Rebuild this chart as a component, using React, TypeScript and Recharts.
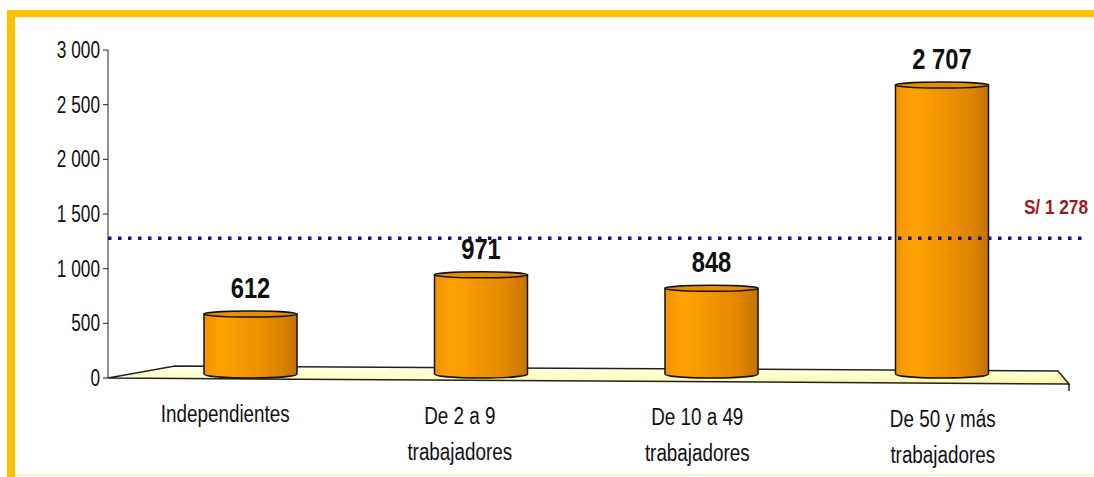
import { BarChart, Bar, XAxis, YAxis, ReferenceLine, ReferenceArea, LabelList } from 'recharts';

// ingreso promedio mensual por tamaño de empresa
const categories = ['Independientes', 'De 2 a 9\ntrabajadores', 'De 10 a 49\ntrabajadores', 'De 50 y más\ntrabajadores'];
const ingresos = [612, 971, 848, 2707];
const yTicks = [0, 500, 1000, 1500, 2000, 2500, 3000];
const promedio = 1278;
const promedioLabel = 'S/ 1 278';

const data = categories.map((name, i) => ({ name, ingreso: ingresos[i] }));

const FONT = '"Liberation Sans", Arial, sans-serif';
const YELLOW = '#ffc000';
const PAD_L = 27;
const PAD_R = 31;
// the tick labels sit a bit left of the bars (3D perspective in the original)
const LABEL_SHIFT = [-25, -21, -14, 1];

const fmt = (v: number) => String(v).replace(/\B(?=(\d{3})+(?!\d))/g, ' ');

// no Arial Narrow here, so squeeze Liberation Sans horizontally
const NarrowText = ({ x, y, size, sx = 0.82, anchor = 'middle', bold = false, fill = '#111', children }: any) => (
    <text
        transform={`translate(${x},${y}) scale(${sx},1)`}
        textAnchor={anchor}
        fontSize={size}
        fontWeight={bold ? 'bold' : 'normal'}
        fontFamily={FONT}
        fill={fill}
    >
        {children}
    </text>
);

const CylinderBar = (props: any) => {
    const { x, y, width, height } = props;
    if (height <= 0) return null;
    const ry = 3;
    const bottom = y + height;
    const rx = width / 2;
    const body = `M${x},${y + ry} L${x},${bottom - ry - 1} A${rx},${ry + 1} 0 0 0 ${x + width},${bottom - ry - 1} L${x + width},${y + ry} Z`;
    return (
        <g>
            <path d={body} fill="url(#barGrad)" stroke="#111" strokeWidth={1.5} />
            <ellipse cx={x + rx} cy={y + ry} rx={rx} ry={ry} fill="#e88c00" stroke="#111" strokeWidth={1.5} />
        </g>
    );
};

const Floor = (props: any) => {
    const { x, width, y, height } = props;
    const base = y + height;
    const left = x - PAD_L;
    const right = x + width + PAD_R;
    const pts = [
        [left, base],
        [left + 67, base - 12],
        [right - 30, base - 7],
        [right - 19, base + 6],
    ].map((p) => p.join(',')).join(' ');
    return (
        <g>
            <polygon points={pts} fill="url(#floorGrad)" stroke="#222" strokeWidth={1.5} />
            <line x1={right - 19} y1={base + 6} x2={right - 19} y2={base + 13} stroke="#222" strokeWidth={1.5} />
        </g>
    );
};

const CategoryTick = ({ x, y, payload, index }: any) => {
    const lines = String(payload.value).split('\n');
    const dx = LABEL_SHIFT[index] ?? 0;
    return (
        <g>
            {lines.map((line, i) => (
                <NarrowText key={i} x={x + dx} y={y + 36 + index * 1.6 + i * 36} size={23}>
                    {line}
                </NarrowText>
            ))}
        </g>
    );
};

const ValueTick = ({ x, y, payload }: any) => (
    <NarrowText x={x} y={y + 8} size={23} sx={0.75} anchor="end">
        {fmt(payload.value)}
    </NarrowText>
);

const ValueLabel = ({ x, y, width, value }: any) => (
    <NarrowText x={x + width / 2} y={y - 13} size={29} bold>
        {fmt(value)}
    </NarrowText>
);

const PromedioLabel = ({ viewBox }: any) => (
    <NarrowText x={viewBox.x + viewBox.width} y={viewBox.y - 24} size={21} anchor="end" bold fill="#9b1b1b">
        {promedioLabel}
    </NarrowText>
);

export default function App() {
    return (
        <div style={{ position: 'absolute', left: 0, top: 0, width: 1094, height: 477, background: '#fff', overflow: 'hidden' }}>
            <div style={{ position: 'absolute', left: 7, top: 10, width: 1087, height: 7, background: YELLOW }} />
            <div style={{ position: 'absolute', left: 7, top: 10, width: 8, height: 467, background: YELLOW }} />
            <div style={{ position: 'absolute', left: 15, top: 474, width: 1079, height: 2, background: '#fff2c0' }} />
            <div style={{ position: 'absolute', left: 0, top: 0 }}>
                <BarChart width={1094} height={477} data={data} margin={{ top: 50, right: 6, bottom: 9, left: 0 }}>
                    <defs>
                        <linearGradient id="barGrad" x1="0" y1="0" x2="1" y2="0">
                            <stop offset="0%" stopColor="#f29200" />
                            <stop offset="18%" stopColor="#ffa200" />
                            <stop offset="50%" stopColor="#f29400" />
                            <stop offset="80%" stopColor="#e08500" />
                            <stop offset="100%" stopColor="#c47200" />
                        </linearGradient>
                        <linearGradient id="floorGrad" x1="0" y1="0" x2="0" y2="1">
                            <stop offset="0%" stopColor="#fffff2" />
                            <stop offset="60%" stopColor="#ffffc4" />
                            <stop offset="100%" stopColor="#f4f0a0" />
                        </linearGradient>
                    </defs>
                    <XAxis
                        dataKey="name"
                        interval={0}
                        axisLine={false}
                        tickLine={false}
                        height={90}
                        padding={{ left: PAD_L, right: PAD_R }}
                        tick={<CategoryTick />}
                    />
                    <YAxis
                        domain={[0, 3000]}
                        ticks={yTicks}
                        width={108}
                        stroke="#222"
                        tickSize={5}
                        tickMargin={3}
                        tick={<ValueTick />}
                    />
                    <ReferenceArea y1={0} y2={100} ifOverflow="visible" shape={<Floor />} />
                    <Bar dataKey="ingreso" barSize={93} shape={<CylinderBar />} isAnimationActive={false}>
                        <LabelList dataKey="ingreso" content={<ValueLabel />} />
                    </Bar>
                    <ReferenceLine
                        y={promedio}
                        stroke="#14148c"
                        strokeWidth={3.5}
                        strokeDasharray="3.5 6.5"
                        label={<PromedioLabel />}
                    />
                </BarChart>
            </div>
        </div>
    );
}
